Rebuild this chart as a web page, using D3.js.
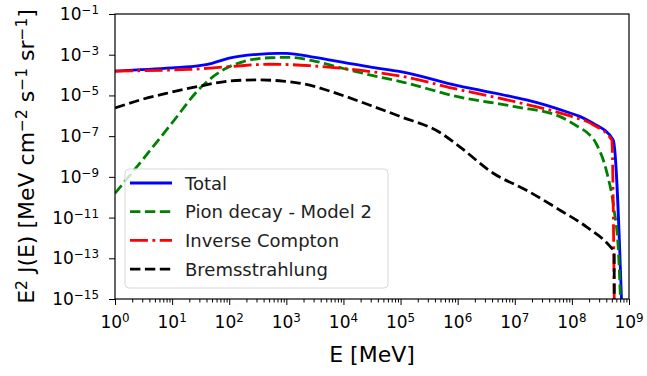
<!DOCTYPE html>
<html>
<head>
<meta charset="utf-8">
<script src="https://cdn.jsdelivr.net/npm/d3@7.9.0/dist/d3.min.js"></script>
<style>
  body { margin: 0; background: #fff; }
  svg { font-family: "DejaVu Sans", sans-serif; }
</style>
</head>
<body>
<svg id="chart" width="647" height="376"></svg>
<script>
// energies in MeV, fluxes E^2 J(E) in MeV cm^-2 s^-1 sr^-1
const totalE = [1, 10, 30, 50, 100, 316, 700, 1000, 3162, 1e4, 3.16e4, 1e5, 1e6, 1e7, 1.6e7, 8e7, 1.4e8, 2.3e8, 5.3e8, 7.6e8];
const totalF = [1.58e-4, 2.24e-4, 2.9e-4, 3.8e-4, 6.8e-4, 1.05e-3, 1.17e-3, 1.17e-3, 7.4e-4, 4.2e-4, 2.4e-4, 1.48e-4, 3.0e-5, 8.1e-6, 6.0e-6, 1.58e-6, 9.1e-7, 4.4e-7, 6.5e-8, 1e-16];

const pionE = [1, 3.16, 10, 31, 78, 178, 513, 1150, 3400, 1e4, 3e4, 1e5, 1e6, 1e7, 6.2e7, 1.4e8, 1.8e8, 2.7e8, 4.1e8, 5.4e8, 6.6e8, 7.2e8];
const pionF = [1.55e-10, 7.9e-9, 4.5e-7, 2.3e-5, 1.8e-4, 4.6e-4, 7.1e-4, 7.4e-4, 4.6e-4, 2.1e-4, 1.0e-4, 4.8e-5, 8.7e-6, 2.8e-6, 9.1e-7, 2.5e-7, 1.6e-7, 4.0e-8, 1.6e-9, 3.2e-11, 1.3e-13, 3e-16];

const icE = [1, 20, 100, 513, 2570, 1e4, 3e4, 1e5, 1e6, 1e7, 8.1e7, 2.4e8, 5.0e8, 5.56e8];
const icF = [1.58e-4, 1.9e-4, 2.6e-4, 3.4e-4, 2.9e-4, 2.1e-4, 1.48e-4, 8.9e-5, 2.0e-5, 4.9e-6, 1.1e-6, 3.5e-7, 6.5e-8, 1e-16];

const bremE = [1, 2.75, 9.1, 31, 102, 302, 870, 2570, 7600, 3e4, 1e5, 4.9e5, 1.12e6, 4.2e6, 1.6e7, 6.2e7, 1.8e8, 4.7e8, 5.5e8, 5.52e8];
const bremF = [2.4e-6, 6.0e-6, 1.38e-5, 2.9e-5, 5.1e-5, 5.8e-5, 5.1e-5, 3.2e-5, 1.26e-5, 3.2e-6, 9.1e-7, 1.5e-7, 2.8e-8, 1.5e-9, 2.2e-10, 2.3e-11, 3.5e-12, 3.7e-13, 2.1e-13, 1e-16];

const xTickExps = [0, 1, 2, 3, 4, 5, 6, 7, 8, 9];
const yTickExps = [-1, -3, -5, -7, -9, -11, -13, -15];

const series = [
  { label: 'Total', E: totalE, F: totalF, color: '#0000ff', dash: null },
  { label: 'Pion decay - Model 2', E: pionE, F: pionF, color: '#008000', dash: '10.4,4.5' },
  { label: 'Inverse Compton', E: icE, F: icF, color: '#ff0000', dash: '17.9,4.5,2.8,4.5' },
  { label: 'Bremsstrahlung', E: bremE, F: bremF, color: '#000000', dash: '10.4,4.5' }
];

const margin = { left: 115, right: 18, top: 14, bottom: 77 };
const width = 647, height = 376;
const svg = d3.select('#chart');

const x = d3.scaleLog().domain([1, 1e9]).range([margin.left, width - margin.right]);
const y = d3.scaleLog().domain([1e-15, 1e-1]).range([height - margin.bottom, margin.top]);

svg.append('defs').append('clipPath').attr('id', 'plot-clip')
  .append('rect')
  .attr('x', margin.left).attr('y', margin.top)
  .attr('width', x.range()[1] - margin.left)
  .attr('height', y.range()[0] - margin.top);

// power-of-ten label with superscript exponent
const powLabel = (sel, exp) => {
  sel.append('tspan').text('10');
  sel.append('tspan').attr('dy', '-0.5em').attr('font-size', '0.7em')
    .text(exp < 0 ? '\u2212' + (-exp) : exp);
};

// x axis: major + minor ticks
const minorX = [];
for (let k = 0; k < 9; k++) for (let m = 2; m <= 9; m++) minorX.push(m * Math.pow(10, k));

const xAxisG = svg.append('g').attr('transform', `translate(0,${y.range()[0]})`);
xAxisG.call(d3.axisBottom(x).tickValues(minorX).tickSize(3.5).tickFormat(''));
xAxisG.call(g => g.select('.domain').remove());
const xMajor = svg.append('g').attr('transform', `translate(0,${y.range()[0]})`)
  .call(d3.axisBottom(x).tickValues(xTickExps.map(e => Math.pow(10, e))).tickSize(6).tickFormat(''));
xMajor.select('.domain').remove();

xTickExps.forEach(e => {
  svg.append('text')
    .attr('x', x(Math.pow(10, e)))
    .attr('y', 328)
    .attr('text-anchor', 'middle')
    .attr('font-size', 17)
    .attr('fill', '#000')
    .call(powLabel, e);
});

const yAxisG = svg.append('g').attr('transform', `translate(${margin.left},0)`)
  .call(d3.axisLeft(y).tickValues(yTickExps.map(e => Math.pow(10, e))).tickSize(6).tickFormat(''));
yAxisG.select('.domain').remove();

yTickExps.forEach(e => {
  svg.append('text')
    .attr('x', 99)
    .attr('y', y(Math.pow(10, e)) + 6)
    .attr('text-anchor', 'end')
    .attr('font-size', 17)
    .attr('fill', '#000')
    .call(powLabel, e);
});

svg.selectAll('.tick line').attr('stroke', '#000').attr('stroke-width', 1);

// curves
const line = d3.line()
  .x((d) => x(d[0]))
  .y((d) => y(d[1]))
  .curve(d3.curveMonotoneX);

const plot = svg.append('g').attr('clip-path', 'url(#plot-clip)');
series.forEach(s => {
  const pts = s.E.map((e, i) => [e, s.F[i]]);
  plot.append('path')
    .attr('d', line(pts))
    .attr('fill', 'none')
    .attr('stroke', s.color)
    .attr('stroke-width', 2.8)
    .attr('stroke-dasharray', s.dash)
    .attr('stroke-linejoin', 'round');
});

// frame
svg.append('rect')
  .attr('x', margin.left).attr('y', margin.top)
  .attr('width', x.range()[1] - margin.left)
  .attr('height', y.range()[0] - margin.top)
  .attr('fill', 'none')
  .attr('stroke', '#000')
  .attr('stroke-width', 1.2);

// legend
const legend = svg.append('g');
legend.append('rect')
  .attr('x', 125).attr('y', 169).attr('width', 263).attr('height', 119)
  .attr('rx', 4)
  .attr('fill', '#fff').attr('fill-opacity', 0.8)
  .attr('stroke', '#d8d8d8');

series.forEach((s, i) => {
  const cy = 183 + i * 28.7;
  legend.append('line')
    .attr('x1', 130).attr('x2', 172).attr('y1', cy).attr('y2', cy)
    .attr('stroke', s.color).attr('stroke-width', 2.8)
    .attr('stroke-dasharray', s.dash);
  legend.append('text')
    .attr('x', 185).attr('y', cy + 6.5)
    .attr('font-size', 18)
    .attr('fill', '#222')
    .text(s.label);
});

// axis titles
svg.append('text')
  .attr('x', (margin.left + x.range()[1]) / 2)
  .attr('y', 362)
  .attr('text-anchor', 'middle')
  .attr('font-size', 22)
  .attr('fill', '#000')
  .text('E [MeV]');

const yTitle = svg.append('text')
  .attr('transform', `translate(34,${(margin.top + y.range()[0]) / 2}) rotate(-90)`)
  .attr('text-anchor', 'middle')
  .attr('font-size', 22)
  .attr('fill', '#000');
const parts = [['E', null], ['2', 'sup'], [' J(E) [MeV cm', null], ['\u22122', 'sup'], [' s', null], ['\u22121', 'sup'], [' sr', null], ['\u22121', 'sup'], [']', null]];
parts.forEach(([t, kind]) => {
  if (kind === 'sup') {
    yTitle.append('tspan').attr('dy', '-0.45em').attr('font-size', '0.7em').text(t);
  } else {
    const ts = yTitle.append('tspan').text(t);
    // return to the baseline after a superscript (0.45 * 0.7em in parent em)
    if (yTitle.selectAll('tspan').size() > 1) ts.attr('dy', '0.315em');
  }
});
</script>
</body>
</html>
